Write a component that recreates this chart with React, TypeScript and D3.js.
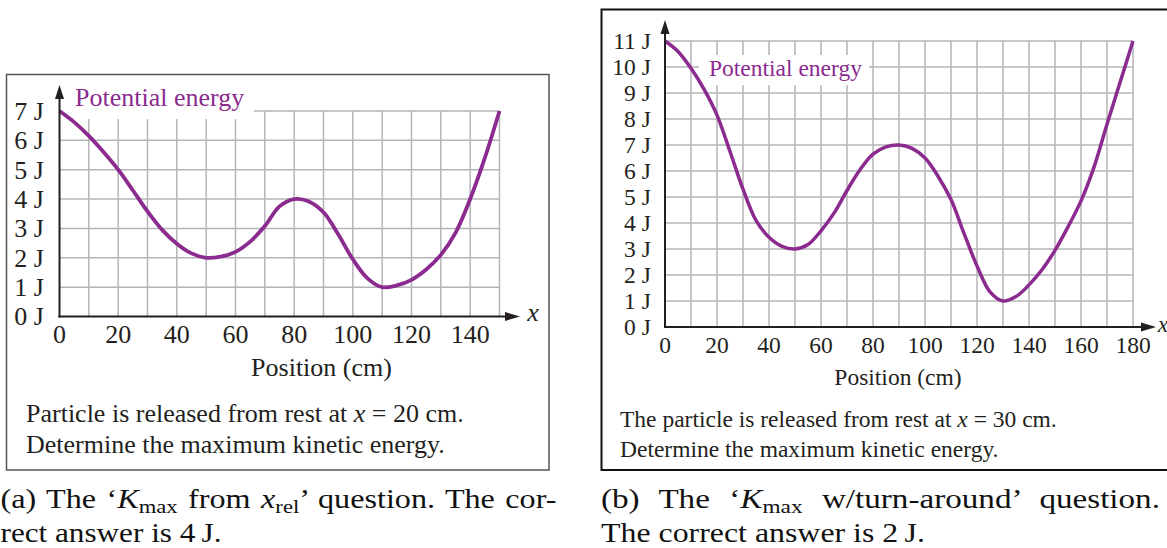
import React from "react";
import * as d3 from "d3";

const FONT = '"Liberation Serif", "Times New Roman", serif';
const CURVE = "#8b2a8f";
const GRID = "#b4b4b8";
const INK = "#231f20";

// panel (a): position (cm) and potential energy (J)
const leftPositions = [
  0, 5, 10, 15, 20, 25, 30, 35, 40, 45, 50, 55, 60, 65, 70, 75, 80, 85, 90, 95,
  100, 105, 110, 115, 120, 125, 130, 135, 140, 145, 150,
];
const leftEnergy = [
  7.0, 6.62, 6.15, 5.6, 5.0, 4.3, 3.58, 2.95, 2.48, 2.15, 2.0, 2.04, 2.2, 2.55,
  3.08, 3.75, 4.0, 3.92, 3.55, 2.8, 1.95, 1.3, 1.0, 1.06, 1.25, 1.6, 2.1, 2.85,
  4.0, 5.4, 7.0,
];
const leftXTicks = [0, 20, 40, 60, 80, 100, 120, 140];
const leftYTicks = [0, 1, 2, 3, 4, 5, 6, 7];

// panel (b)
const rightPositions = [
  0, 5, 10, 15, 20, 25, 30, 35, 40, 45, 50, 55, 60, 65, 70, 75, 80, 85, 90, 95,
  100, 105, 110, 115, 120, 125, 130, 135, 140, 145, 150, 155, 160, 165, 170,
  175, 180,
];
const rightEnergy = [
  11, 10.6, 9.95, 9.15, 8.15, 6.75, 5.3, 4.1, 3.45, 3.1, 3.0, 3.17, 3.7, 4.38,
  5.25, 6.05, 6.65, 6.93, 7.0, 6.87, 6.5, 5.8, 4.9, 3.6, 2.35, 1.35, 1.0, 1.17,
  1.62, 2.2, 2.95, 3.85, 4.85, 6.15, 7.8, 9.4, 11,
];
const rightXTicks = [0, 20, 40, 60, 80, 100, 120, 140, 160, 180];
const rightYTicks = [0, 1, 2, 3, 4, 5, 6, 7, 8, 9, 10, 11];

const curveLabel = "Potential energy";
const axisTitle = "Position (cm)";

interface PanelProps {
  positions: number[];
  energy: number[];
  xTicks: number[];
  yTicks: number[];
  xMax: number;
  yMax: number;
  xRange: [number, number];
  yRange: [number, number];
  box: [number, number, number, number];
  boxStroke: string;
  boxWidth: number;
  fontSize: number;
  yTip: number;
  xTip: number;
  labelBox: [number, number, number, number];
  labelAt: [number, number];
  tickLabelY: number;
  titleAt: [number, number];
  xLabelAt: [number, number];
  captionX: number;
  captionY: [number, number];
  captionPre: string;
  captionX0: string;
  curveWidth: number;
}

function Panel(p: PanelProps) {
  const x = d3.scaleLinear().domain([0, p.xMax]).range(p.xRange);
  const y = d3.scaleLinear().domain([0, p.yMax]).range(p.yRange);
  const line = d3
    .line<number>()
    .x((_, i) => x(p.positions[i]))
    .y((d) => y(d))
    .curve(d3.curveCatmullRom.alpha(0.5));

  const x0 = x(0);
  const y0 = y(0);
  const vLines = d3.range(10, p.xMax + 1, 10);
  const hLines = d3.range(1, p.yMax + 1);
  const fs = p.fontSize;

  return (
    <g fontFamily={FONT}>
      <rect
        x={p.box[0]}
        y={p.box[1]}
        width={p.box[2]}
        height={p.box[3]}
        fill="white"
        stroke={p.boxStroke}
        strokeWidth={p.boxWidth}
      />
      {vLines.map((v) => (
        <line
          key={"v" + v}
          x1={x(v)}
          x2={x(v)}
          y1={y0}
          y2={y(p.yMax)}
          stroke={GRID}
          strokeWidth={1.5}
        />
      ))}
      {hLines.map((h) => (
        <line
          key={"h" + h}
          x1={x0}
          x2={x(p.xMax)}
          y1={y(h)}
          y2={y(h)}
          stroke={GRID}
          strokeWidth={1.5}
        />
      ))}
      <rect
        x={p.labelBox[0]}
        y={p.labelBox[1]}
        width={p.labelBox[2]}
        height={p.labelBox[3]}
        fill="white"
      />
      <text x={p.labelAt[0]} y={p.labelAt[1]} fontSize={fs} fill={CURVE}>
        {curveLabel}
      </text>
      <path
        d={line(p.energy) ?? ""}
        fill="none"
        stroke={CURVE}
        strokeWidth={p.curveWidth}
      />

      {/* axes with arrow heads */}
      <line x1={x0} x2={x0} y1={y0 + 1} y2={p.yTip + 10} stroke={INK} strokeWidth={2} />
      <polygon
        points={`${x0},${p.yTip} ${x0 - 4.5},${p.yTip + 14} ${x0 + 4.5},${p.yTip + 14}`}
        fill={INK}
      />
      <line x1={x0 - 1} x2={p.xTip - 10} y1={y0} y2={y0} stroke={INK} strokeWidth={2} />
      <polygon
        points={`${p.xTip},${y0} ${p.xTip - 15},${y0 - 4.5} ${p.xTip - 15},${y0 + 4.5}`}
        fill={INK}
      />
      <text
        x={p.xLabelAt[0]}
        y={p.xLabelAt[1]}
        fontSize={fs}
        fontStyle="italic"
        textAnchor="middle"
        fill={INK}
      >
        x
      </text>

      {p.yTicks.map((t) => (
        <text
          key={"yt" + t}
          x={x0 - 0.6 * fs}
          y={y(t) + 0.34 * fs}
          fontSize={fs}
          textAnchor="end"
          fill={INK}
        >
          {`${t} J`}
        </text>
      ))}
      {p.xTicks.map((t) => (
        <text
          key={"xt" + t}
          x={x(t)}
          y={p.tickLabelY}
          fontSize={fs}
          textAnchor="middle"
          fill={INK}
        >
          {t}
        </text>
      ))}
      <text
        x={p.titleAt[0]}
        y={p.titleAt[1]}
        fontSize={fs}
        textAnchor="middle"
        fill={INK}
      >
        {axisTitle}
      </text>
      <text x={p.captionX} y={p.captionY[0]} fontSize={fs} fill={INK}>
        {p.captionPre}
        <tspan fontStyle="italic">x</tspan>
        {p.captionX0}
      </text>
      <text x={p.captionX} y={p.captionY[1]} fontSize={fs} fill={INK}>
        Determine the maximum kinetic energy.
      </text>
    </g>
  );
}

const CAP = 27;
const SUB = 19;

function SubCaptions() {
  return (
    <g fontFamily={FONT} fontSize={CAP} fill="#111" style={{ whiteSpace: "pre" }}>
      <text x={0.5} y={508} textLength={556} lengthAdjust="spacingAndGlyphs" wordSpacing={2}>
        {"(a) The \u2018"}
        <tspan fontStyle="italic">K</tspan>
        <tspan fontSize={SUB} dy={5}>max</tspan>
        <tspan dy={-5}>{" from "}</tspan>
        <tspan fontStyle="italic">x</tspan>
        <tspan fontSize={SUB} dy={5}>rel</tspan>
        <tspan dy={-5}>{"\u2019 question.  The cor-"}</tspan>
      </text>
      <text x={0.5} y={542} textLength={221} lengthAdjust="spacingAndGlyphs">
        {"rect answer is 4\u2009J."}
      </text>
      <text x={601} y={508} textLength={559} lengthAdjust="spacingAndGlyphs" wordSpacing={9}>
        {"(b) The \u2018"}
        <tspan fontStyle="italic">K</tspan>
        <tspan fontSize={SUB} dy={5}>max</tspan>
        <tspan dy={-5}>{" w/turn-around\u2019 question."}</tspan>
      </text>
      <text x={601} y={542} textLength={324} lengthAdjust="spacingAndGlyphs">
        {"The correct answer is 2\u2009J."}
      </text>
    </g>
  );
}

export default function App() {
  return (
    <svg
      width={1167}
      height={548}
      style={{ position: "absolute", left: 0, top: 0, background: "white" }}
    >
      <Panel
        positions={leftPositions}
        energy={leftEnergy}
        xTicks={leftXTicks}
        yTicks={leftYTicks}
        xMax={150}
        yMax={7}
        xRange={[59.5, 499.5]}
        yRange={[316.5, 111]}
        box={[6.5, 74.5, 542.5, 395.5]}
        boxStroke="#555"
        boxWidth={1.5}
        fontSize={26}
        yTip={85}
        xTip={520}
        labelBox={[62, 78, 192, 41]}
        labelAt={[75, 106]}
        tickLabelY={343}
        titleAt={[321.5, 376]}
        xLabelAt={[533, 321]}
        captionX={26}
        captionY={[421.5, 453]}
        captionPre="Particle is released from rest at "
        captionX0=" = 20 cm."
        curveWidth={3.8}
      />
      <Panel
        positions={rightPositions}
        energy={rightEnergy}
        xTicks={rightXTicks}
        yTicks={rightYTicks}
        xMax={180}
        yMax={11}
        xRange={[665, 1133]}
        yRange={[327, 41]}
        box={[601.5, 9.5, 620, 460.5]}
        boxStroke="#111"
        boxWidth={2}
        fontSize={23.5}
        yTip={20}
        xTip={1156}
        labelBox={[699, 55, 170, 30]}
        labelAt={[709, 76]}
        tickLabelY={353}
        titleAt={[898, 385]}
        xLabelAt={[1163, 332]}
        captionX={620}
        captionY={[426.5, 456.5]}
        captionPre="The particle is released from rest at "
        captionX0=" = 30 cm."
        curveWidth={3.5}
      />
      <SubCaptions />
    </svg>
  );
}
